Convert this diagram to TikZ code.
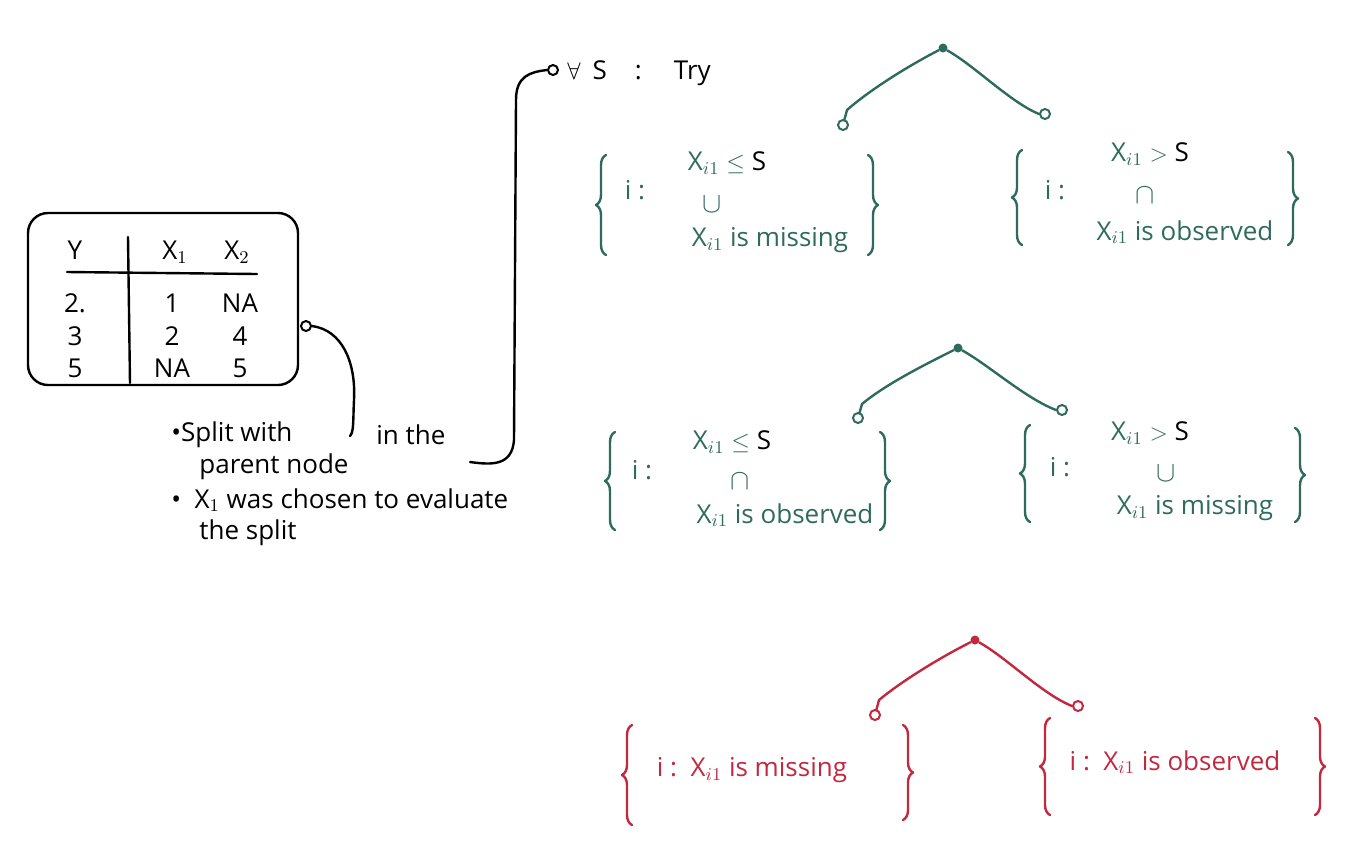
\documentclass[tikz,border=0pt]{standalone}
\usepackage{fontspec}
\setmainfont{Open Sans}
\usetikzlibrary{decorations.pathreplacing}
\definecolor{tealink}{HTML}{2F6B5D}
\definecolor{redink}{HTML}{C3283F}
\begin{document}
\begin{tikzpicture}[x=0.5pt,y=-0.5pt,
  font=\fontsize{13}{15}\selectfont,
  ink/.style={line width=1.2pt, line cap=round, line join=round},
  leaf/.style={circle, draw, line width=1pt, inner sep=0pt, minimum size=5pt},
  rootdot/.style={circle, fill, inner sep=0pt, minimum size=4.5pt},
  bracepath/.style={ink, decorate, decoration={brace, amplitude=5pt}},
  txt/.style={inner sep=0.5pt},
  opsym/.style={inner sep=0pt, text height=7pt, text depth=0pt, font=\fontsize{15}{17}\selectfont},
]
\useasboundingbox (0,0) rectangle (1350,842);

% ---------------- table ----------------
\node[draw, ink, rounded corners=10pt, minimum width=135pt, minimum height=86pt] (tbl) at (163,299) {};
\node[txt] (hy)  at (75,250)  {Y};
\node[txt] (hx1) at (175,252) {X$_1$};
\node[txt] (hx2) at (237,252) {X$_2$};
\coordinate (rulea) at (67,272);
\coordinate (ruleb) at (257,274);
\draw[ink] (rulea) -- (ruleb);
\coordinate (diva) at (128,237);
\coordinate (divb) at (130,383);
\draw[ink] (diva) -- (divb);
\node[txt] (r1a) at (75,303)  {2.};
\node[txt] (r1b) at (172,303) {1};
\node[txt] (r1c) at (240,303) {NA};
\node[txt] (r2a) at (75,336)  {3};
\node[txt] (r2b) at (172,336) {2};
\node[txt] (r2c) at (240,336) {4};
\node[txt] (r3a) at (75,368)  {5};
\node[txt] (r3b) at (172,368) {NA};
\node[txt] (r3c) at (240,368) {5};

% connector from table to note
\node[leaf] (tc) at (306,326) {};
\coordinate (tcend) at (350,436);
\draw[ink] (tc.east) .. controls (342,330) and (356,362) .. (354,400) .. controls (353,420) and (354,432) .. (tcend);

% notes
\node[txt, anchor=west] (n1a) at (170,435) {\textbullet Split with};
\node[txt, anchor=west] (n1b) at (375,435) {in the};
\node[txt, anchor=west] (n1c) at (198,467) {parent node};
\node[txt, anchor=west] (n2a) at (170,500) {\textbullet\ \ X$_1$ was chosen to evaluate};
\node[txt, anchor=west] (n2b) at (198,533) {the split};

% long connector to "for all S"
\coordinate (lc0) at (470,462);
\node[leaf] (try) at (553,70) {};
\draw[ink] (lc0) .. controls (492,465) and (512,466) .. (514,440) -- (516,100) .. controls (516,76) and (530,72) .. (try.west);
\node[txt, anchor=west] (trylbl) at (566,73) {$\forall$\hspace{6pt}S\hspace{14pt}:\hspace{16pt}Try};

% ---------------- tree 1 (teal) ----------------
\begin{scope}[tealink]
\node[rootdot] (t1r) at (943,48) {};
\node[leaf] (t1l) at (843,125) {};
\node[leaf] (t1rr) at (1045,114) {};
\draw[ink] (t1r) .. controls (912,64) and (872,88) .. (847,110) -- (t1l);
\draw[ink] (t1r) .. controls (975,66) and (1010,102) .. (t1rr.west);

% set 1 left
\coordinate (s1la) at (606,255); \coordinate (s1lb) at (606,155);
\draw[bracepath] (s1la) -- (s1lb);
\coordinate (s1ra) at (868,155); \coordinate (s1rb) at (868,255);
\draw[bracepath] (s1ra) -- (s1rb);
\node[txt] (s1li) at (635,190) {i :};
\node[txt] (s1l1) at (727,163) {X$_{i1}$ $\leq$ \textcolor{black}{S}};
\node[opsym] (s1l2) at (712,205) {$\cup$};
\node[txt] (s1l3) at (770,240) {X$_{i1}$ is missing};

% set 1 right
\coordinate (s2la) at (1022,245); \coordinate (s2lb) at (1022,150);
\draw[bracepath] (s2la) -- (s2lb);
\coordinate (s2ra) at (1288,152); \coordinate (s2rb) at (1288,245);
\draw[bracepath] (s2ra) -- (s2rb);
\node[txt] (s2li) at (1055,190) {i :};
\node[txt] (s2l1) at (1150,154) {X$_{i1}$ $>$ \textcolor{black}{S}};
\node[opsym] (s2l2) at (1145,196) {$\cap$};
\node[txt] (s2l3) at (1185,232) {X$_{i1}$ is observed};

% ---------------- tree 2 (teal) ----------------
\node[rootdot] (t2r) at (958,348) {};
\node[leaf] (t2l) at (858,418) {};
\node[leaf] (t2rr) at (1062,410) {};
\draw[ink] (t2r) .. controls (926,364) and (886,384) .. (862,404) -- (t2l);
\draw[ink] (t2r) .. controls (990,366) and (1025,398) .. (t2rr.west);

% set 2 left
\coordinate (s3la) at (615,530); \coordinate (s3lb) at (615,432);
\draw[bracepath] (s3la) -- (s3lb);
\coordinate (s3ra) at (880,432); \coordinate (s3rb) at (880,530);
\draw[bracepath] (s3ra) -- (s3rb);
\node[txt] (s3li) at (642,470) {i :};
\node[txt] (s3l1) at (732,442) {X$_{i1}$ $\leq$ \textcolor{black}{S}};
\node[opsym] (s3l2) at (740,482) {$\cap$};
\node[txt] (s3l3) at (785,515) {X$_{i1}$ is observed};

% set 2 right
\coordinate (s4la) at (1030,522); \coordinate (s4lb) at (1030,425);
\draw[bracepath] (s4la) -- (s4lb);
\coordinate (s4ra) at (1295,428); \coordinate (s4rb) at (1295,522);
\draw[bracepath] (s4ra) -- (s4rb);
\node[txt] (s4li) at (1060,467) {i :};
\node[txt] (s4l1) at (1150,433) {X$_{i1}$ $>$ \textcolor{black}{S}};
\node[opsym] (s4l2) at (1166,474) {$\cup$};
\node[txt] (s4l3) at (1195,508) {X$_{i1}$ is missing};
\end{scope}

% ---------------- tree 3 (red) ----------------
\begin{scope}[redink]
\node[rootdot] (t3r) at (975,640) {};
\node[leaf] (t3l) at (875,715) {};
\node[leaf] (t3rr) at (1078,706) {};
\draw[ink] (t3r) .. controls (943,656) and (903,680) .. (879,700) -- (t3l);
\draw[ink] (t3r) .. controls (1007,658) and (1042,694) .. (t3rr.west);

\coordinate (s5la) at (632,825); \coordinate (s5lb) at (632,725);
\draw[bracepath] (s5la) -- (s5lb);
\coordinate (s5ra) at (903,725); \coordinate (s5rb) at (903,820);
\draw[bracepath] (s5ra) -- (s5rb);
\node[txt] (s5l) at (752,770) {i :\ \ X$_{i1}$ is missing};

\coordinate (s6la) at (1050,815); \coordinate (s6lb) at (1050,718);
\draw[bracepath] (s6la) -- (s6lb);
\coordinate (s6ra) at (1315,718); \coordinate (s6rb) at (1315,815);
\draw[bracepath] (s6ra) -- (s6rb);
\node[txt] (s6l) at (1175,762) {i :\ \ X$_{i1}$ is observed};
\end{scope}
\end{tikzpicture}
\end{document}
